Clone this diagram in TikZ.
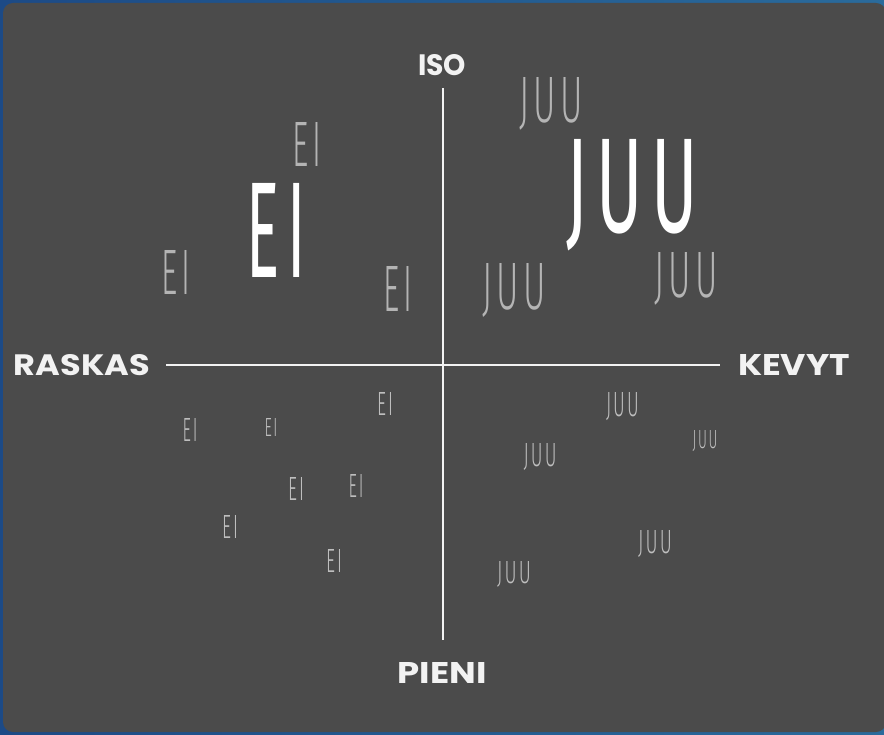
\documentclass[tikz,border=0pt]{standalone}
\usepackage{fontspec}
\usepackage{graphicx}
\newfontfamily\labfont{Poppins}
\newfontfamily\handfont{Fira Sans Light}[LetterSpace=12]
\newfontfamily\handbold{Fira Sans}[LetterSpace=12]
\definecolor{frameblueL}{HTML}{1C4A86}
\definecolor{frameblueR}{HTML}{2A6B9C}
\definecolor{panel}{HTML}{4B4B4B}
\definecolor{axis}{HTML}{F2F2F2}
\definecolor{handgray}{HTML}{B4B4B4}
\definecolor{handlow}{HTML}{BEBEBE}
\newcommand\fitbox[3]{\resizebox{#1pt}{#2pt}{#3}}
\newcommand\nodepth[1]{\raisebox{0pt}[\height][0pt]{#1}}
\tikzset{
  lab/.style={text=axis, inner sep=0pt, font=\labfont\bfseries},
  smallhand/.style={text=handgray, inner sep=0pt, anchor=base, font=\handfont},
  lowhand/.style={text=handlow, inner sep=0pt, anchor=base, font=\handfont},
  bighand/.style={text=white, inner sep=0pt, anchor=base, font=\handbold},
  axisline/.style={draw=axis, line width=2pt}
}
\begin{document}
\begin{tikzpicture}[x=1pt,y=-1pt]
\useasboundingbox (0,0) rectangle (884,735);
\fill[left color=frameblueL, right color=frameblueR] (0,0) rectangle (884,735);
\fill[panel, rounded corners=10pt] (3,3) rectangle (886,732);
% axis labels
\node[lab] (iso) at (442,65) {\fitbox{48}{21}{ISO}};
\node[lab] (pieni) at (442,673) {\fitbox{89}{21}{PIENI}};
\node[lab] (raskas) at (82,365) {\fitbox{136}{21}{RASKAS}};
\node[lab] (kevyt) at (794,365) {\fitbox{112}{21}{KEVYT}};
% axes
\coordinate (vtop) at (443,88);
\coordinate (vbot) at (443,640);
\coordinate (hleft) at (166,365);
\coordinate (hright) at (720,365);
\draw[axisline] (vtop) -- (vbot);
\draw[axisline] (hleft) -- (hright);
% upper left: EI (anchor = baseline centre)
\node[smallhand] (ei1) at (307,167) {\fitbox{29}{44}{EI}};
\node[bighand] (ei2) at (276,278) {\fitbox{59}{94}{EI}};
\node[smallhand] (ei3) at (176,295) {\fitbox{29}{44}{EI}};
\node[smallhand] (ei4) at (398,312) {\fitbox{29}{45}{EI}};
% upper right: JUU
\node[smallhand] (juu1) at (551,123) {\nodepth{\fitbox{63}{45}{JUU}}};
\node[bighand] (juu2) at (632,233) {\nodepth{\fitbox{131}{93}{JUU}}};
\node[smallhand] (juu3) at (514,310) {\nodepth{\fitbox{63}{46}{JUU}}};
\node[smallhand] (juu4) at (686,298) {\nodepth{\fitbox{63}{45}{JUU}}};
% lower left: EI
\node[lowhand] (ei5) at (385,416) {\fitbox{16}{23}{EI}};
\node[lowhand] (ei6) at (190,441) {\fitbox{15}{23}{EI}};
\node[lowhand] (ei7) at (271,436) {\fitbox{13}{18}{EI}};
\node[lowhand] (ei8) at (296,500) {\fitbox{16}{23}{EI}};
\node[lowhand] (ei9) at (356,497) {\fitbox{15}{23}{EI}};
\node[lowhand] (ei10) at (230,538) {\fitbox{16}{23}{EI}};
\node[lowhand] (ei11) at (334,572) {\fitbox{16}{23}{EI}};
% lower right: JUU
\node[lowhand] (juu5) at (623,417) {\nodepth{\fitbox{33}{24}{JUU}}};
\node[lowhand] (juu6) at (705,449) {\nodepth{\fitbox{25}{18}{JUU}}};
\node[lowhand] (juu7) at (540,466) {\nodepth{\fitbox{33}{23}{JUU}}};
\node[lowhand] (juu8) at (655,553) {\nodepth{\fitbox{34}{23}{JUU}}};
\node[lowhand] (juu9) at (514,583) {\nodepth{\fitbox{34}{22}{JUU}}};
\end{tikzpicture}
\end{document}
